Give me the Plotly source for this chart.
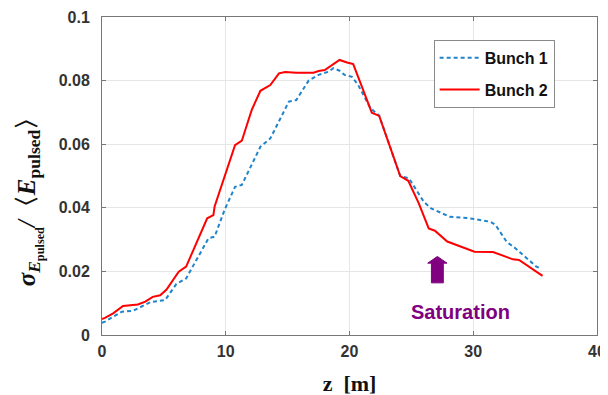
import plotly.graph_objects as go

# Bunch 1 (blue dashed)
z1 = [0.0, 0.24, 1.6, 2.5, 3.9, 5.1, 6.0, 6.8, 8.6, 9.1, 9.9, 10.1, 10.75, 11.3, 12.8, 13.6,
      15.1, 15.7, 16.7, 17.5, 18.3, 18.7, 19.2, 19.6, 20.2, 20.7, 21.7, 22.4, 24.1, 24.8,
      26.0, 26.6, 28.1, 29.7, 31.4, 31.8, 32.7, 33.4, 35.1, 35.4]
v1 = [0.0038, 0.0042, 0.0073, 0.0076, 0.0103, 0.0110, 0.0160, 0.0178, 0.0304, 0.0309, 0.0393,
      0.0409, 0.0466, 0.0472, 0.0592, 0.0618, 0.0734, 0.0739, 0.0800, 0.0818, 0.0828, 0.0839,
      0.0831, 0.0818, 0.0812, 0.0786, 0.0713, 0.0690, 0.0500, 0.0493, 0.0419, 0.0398, 0.0372,
      0.0367, 0.0356, 0.0346, 0.0293, 0.0273, 0.0215, 0.0210]

# Bunch 2 (red solid)
z2 = [0.0, 0.24, 0.9, 1.7, 2.9, 3.5, 4.1, 4.7, 5.2, 6.2, 6.8, 8.5, 9.0, 9.1, 10.75, 11.3,
      12.1, 12.8, 13.6, 14.3, 14.8, 15.7, 17.1, 17.5, 18.0, 19.2, 19.8, 20.3, 21.0, 21.8,
      22.4, 24.1, 24.75, 25.6, 26.4, 26.9, 27.9, 29.1, 30.1, 31.6, 33.2, 33.7, 35.4, 35.6]
v2 = [0.0050, 0.0054, 0.0068, 0.0091, 0.0096, 0.0105, 0.0120, 0.0125, 0.0142, 0.0199, 0.0215,
      0.0367, 0.0377, 0.0404, 0.0597, 0.0611, 0.0708, 0.0768, 0.0786, 0.0823, 0.0827, 0.0825,
      0.0825, 0.0830, 0.0833, 0.0865, 0.0857, 0.0852, 0.0781, 0.0699, 0.0689, 0.0500, 0.0485,
      0.0414, 0.0335, 0.0328, 0.0294, 0.0276, 0.0262, 0.0261, 0.0238, 0.0236, 0.0189, 0.0186]

x_ticks = [0, 10, 20, 30, 40]
x_ticktext = ["0", "10", "20", "30", "40"]
y_ticks = [0, 0.02, 0.04, 0.06, 0.08, 0.1]
y_ticktext = ["0", "0.02", "0.04", "0.06", "0.08", "0.1"]

arrow_z = 27.1
arrow_v = [0.0164, 0.0226, 0.0247]  # shaft bottom, head base, tip

PURPLE = "#800080"
TICKFONT = dict(family="Arial, Liberation Sans, sans-serif", size=16, color="#333333")

fig = go.Figure()
fig.add_trace(go.Scatter(x=z1, y=v1, mode="lines", name="<b>Bunch 1</b>", legendgroup="a",
                         line=dict(color="#1f84cc", width=2, dash="4px,3px")))
fig.add_trace(go.Scatter(x=z2, y=v2, mode="lines", name="<b>Bunch 2</b>", legendgroup="b",
                         line=dict(color="#ff0000", width=2)))

# block arrow
hw, sw = 0.78, 0.48
path = (f"M {arrow_z-sw},{arrow_v[0]} L {arrow_z+sw},{arrow_v[0]} L {arrow_z+sw},{arrow_v[1]} "
        f"L {arrow_z+hw},{arrow_v[1]} L {arrow_z},{arrow_v[2]} L {arrow_z-hw},{arrow_v[1]} "
        f"L {arrow_z-sw},{arrow_v[1]} Z")
fig.add_shape(type="path", path=path, xref="x", yref="y", fillcolor=PURPLE,
              line=dict(color=PURPLE, width=1))
fig.add_annotation(x=29.0, y=0.0073, xref="x", yref="y", text="<b>Saturation</b>",
                   showarrow=False, font=dict(family="Arial, Liberation Sans, sans-serif",
                                              size=20, color=PURPLE))

# y-axis title as rotated annotation
fig.add_annotation(x=-0.145, y=0.44, xref="paper", yref="paper", textangle=-90,
                   showarrow=False, xanchor="center", yanchor="middle",
                   text="<b><i>σ</i><sub><i>E</i><sub>pulsed</sub></sub><i>/</i>〈<i>E</i><sub>pulsed</sub>〉</b>",
                   font=dict(family="Liberation Serif, DejaVu Serif, serif", size=25,
                             color="#111111"))

fig.update_layout(
    width=608, height=395,
    margin=dict(l=94, r=19, t=9, b=68, autoexpand=False),
    paper_bgcolor="white", plot_bgcolor="white",
    showlegend=True,
    legend=dict(x=0.67, y=0.928, xanchor="left", yanchor="top",
                bordercolor="#8a8a8a", borderwidth=1, bgcolor="white",
                font=dict(family="Arial, Liberation Sans, sans-serif", size=16, color="#111111"),
                itemwidth=40, tracegroupgap=8),
    xaxis=dict(range=[0, 40], tickvals=x_ticks, ticktext=[f"<b>{t}</b>" for t in x_ticktext],
               ticks="inside", ticklen=4, automargin=False, ticklabelstandoff=2,
               tickcolor="#777777", showline=True, linecolor="#777777", linewidth=1,
               mirror="ticks", showgrid=True, gridcolor="#e6e6e6", zeroline=False,
               tickfont=TICKFONT,
               title=dict(text="<b>z  [m]</b>", standoff=16,
                          font=dict(family="Liberation Serif, DejaVu Serif, serif", size=22,
                                    color="#111111"))),
    yaxis=dict(range=[0, 0.1], tickvals=y_ticks, ticktext=[f"<b>{t}</b>" for t in y_ticktext],
               ticks="inside", automargin=False, ticklabelstandoff=8,
               ticklen=4, tickcolor="#777777", showline=True, linecolor="#777777",
               linewidth=1, mirror="ticks", showgrid=True, gridcolor="#e6e6e6",
               zeroline=False, tickfont=TICKFONT),
)

fig.write_html("out.html")
